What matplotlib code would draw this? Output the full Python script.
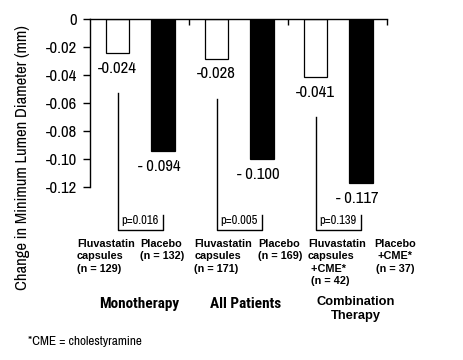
import matplotlib
matplotlib.use('Agg')
import matplotlib.pyplot as plt
import matplotlib.transforms as mtransforms
from matplotlib import font_manager

# ---- data
groups = ['Monotherapy', 'All Patients', 'Combination\nTherapy']
fluva = [-0.024, -0.028, -0.041]
placebo = [-0.094, -0.100, -0.117]
fluva_lbl = ['-0.024', '-0.028', '-0.041']
placebo_lbl = ['- 0.094', '- 0.100', '- 0.117']
pvals = ['p=0.016', 'p=0.005', 'p=0.139']
fluva_names = ['Fluvastatin\ncapsules\n(n = 129)',
               'Fluvastatin\ncapsules\n(n = 171)',
               'Fluvastatin\ncapsules\n +CME*\n (n = 42)']
placebo_names = ['Placebo\n(n = 132)', 'Placebo\n(n = 169)',
                 'Placebo\n+CME*\n(n = 37)']
yticks = [0, -0.02, -0.04, -0.06, -0.08, -0.10, -0.12]
ytick_lbl = ['0', '-0.02', '-0.04', '-0.06', '-0.08', '-0.10', '-0.12']

# ---- fonts (narrow ones for most of the texts)
regular, bolds = set(), set()
for f in font_manager.fontManager.ttflist:
    w = f.weight if isinstance(f.weight, int) else 400
    (bolds if w >= 700 else regular).add(f.name)


def pick(cands, pool, default):
    for c in cands:
        if c in pool:
            return c
    return default


narrow = pick(['Liberation Sans Narrow', 'Archivo Narrow', 'Roboto Condensed'], regular, 'DejaVu Sans')
narrow_b = pick(['Liberation Sans Narrow', 'Roboto Condensed', 'Archivo Narrow',
                 'Barlow Semi Condensed', 'Asap Condensed'], bolds, 'DejaVu Sans')
bold = 'Liberation Sans'

W, H = 463, 360
fig = plt.figure(figsize=(W / 100, H / 100), dpi=100)
ax = fig.add_axes([90 / W, 1 - 229.5 / H, 297 / W, 210 / H])

xw = [g + 0.279 for g in range(3)]
xb = [g + 0.74 for g in range(3)]
bw = 0.238

ax.bar(xw, fluva, width=bw, color='white', edgecolor='black', linewidth=0.9)
ax.bar(xb, placebo, width=bw, color='black', edgecolor='black', linewidth=0.9)

ax.set_xlim(0, 3)
ax.set_ylim(-0.15, 0)
for s in ['bottom', 'right']:
    ax.spines[s].set_visible(False)
ax.spines['left'].set_bounds(-0.12, 0)
ax.spines['top'].set_linewidth(1.0)
ax.spines['left'].set_linewidth(1.0)
ax.set_yticks(yticks)
ax.set_yticklabels(ytick_lbl, fontfamily=narrow, fontsize=12)
ax.tick_params(axis='y', direction='out', length=5, width=1, pad=4)
ax.xaxis.tick_top()
ax.set_xticks([1, 2, 3])
ax.set_xticklabels([])
ax.tick_params(axis='x', direction='in', length=4, width=1)

# value labels under bars
for i in range(3):
    ax.annotate(fluva_lbl[i], (xw[i], fluva[i]), xytext=(0, -11), textcoords='offset points',
                ha='center', va='center', fontfamily=narrow, fontsize=12)
    ax.annotate(placebo_lbl[i], (xb[i], placebo[i]), xytext=(-3, -11), textcoords='offset points',
                ha='center', va='center', fontfamily=narrow, fontsize=12)

# brackets with p-values
px2val = lambda p: -(p - 19.5) / 1400.0
for i in range(3):
    y_top = fluva[i] + px2val(19.5 + 40)
    y_bot = px2val(230)
    ax.plot([xw[i], xw[i], xb[i], xb[i]], [y_top, y_bot, y_bot, px2val(215)],
            color='black', lw=1.0, clip_on=False)
    ax.text(xw[i] + 0.04, px2val(221), pvals[i], ha='left', va='center',
            fontfamily=narrow, fontsize=9)

# category labels under the chart
trans = mtransforms.blended_transform_factory(ax.transData, fig.transFigure)
fl_x = [-0.132, 1.054, 2.20]
pl_x = [0.507, 1.70, 3.08]
pl_ha = ['left', 'left', 'center']
for i in range(3):
    ax.text(fl_x[i], 1 - 239 / H, fluva_names[i], transform=trans, ha='left', va='top',
            fontfamily=bold, fontweight='bold', fontsize=7.8, linespacing=1.3, clip_on=False)
    ax.text(pl_x[i], 1 - 239 / H, placebo_names[i], transform=trans, ha=pl_ha[i], va='top',
            fontfamily=bold, fontweight='bold', fontsize=7.8, linespacing=1.3, clip_on=False,
            multialignment='center' if pl_ha[i] == 'center' else 'left')

# group titles
gx = [139, 246, 356]
for i in range(2):
    fig.text(gx[i] / W, 1 - 304 / H, groups[i], ha='center', va='center',
             fontfamily=narrow_b, fontweight='bold', fontsize=11)
fig.text(gx[2] / W, 1 - 309 / H, groups[2], ha='center', va='center',
         fontfamily=bold, fontweight='bold', fontsize=9.3, linespacing=1.15)

fig.text(23 / W, 1 - 157.5 / H, 'Change in Minimum Lumen Diameter (mm)', rotation=90,
         ha='center', va='center', fontfamily=narrow, fontsize=12)
fig.text(28 / W, 1 - 341.5 / H, '*CME = cholestyramine', ha='left', va='center',
         fontfamily=narrow, fontsize=9.5)

fig.savefig('out.png', dpi=100)
